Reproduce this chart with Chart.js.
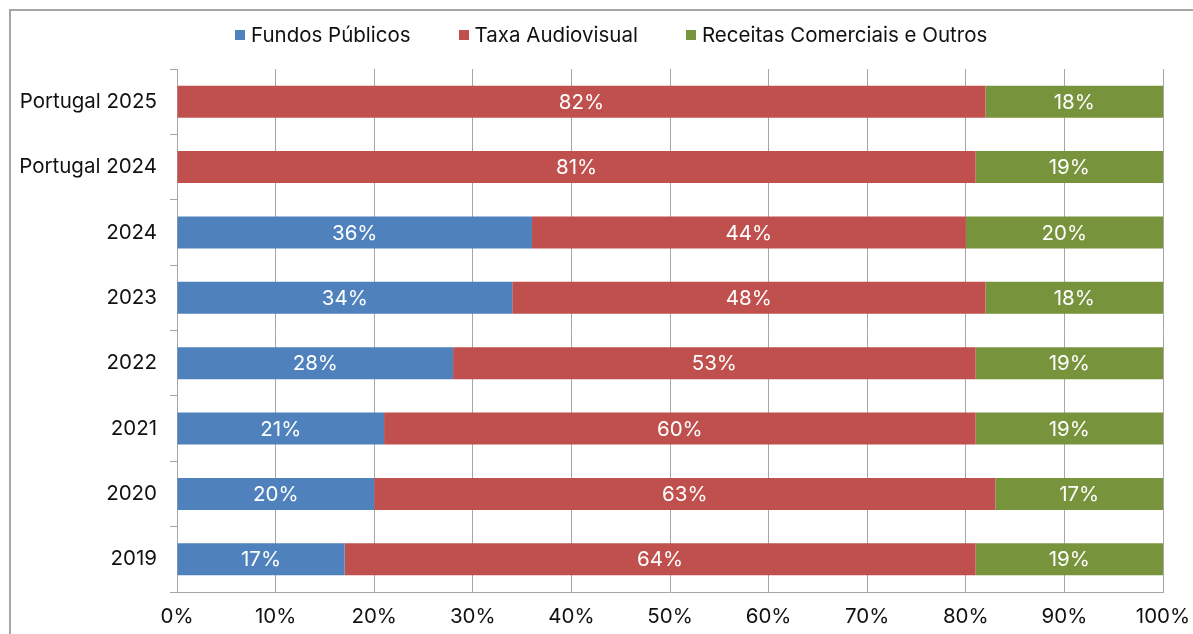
<!DOCTYPE html>
<html>
<head>
<meta charset="utf-8">
<script src="https://cdn.jsdelivr.net/npm/chart.js@4.4.1/dist/chart.umd.min.js"></script>
<style>
  html, body { margin: 0; padding: 0; background: #fff; overflow: hidden; }
  #wrap { position: relative; width: 1193px; height: 634px; }
  #frame {
    position: absolute; left: 9px; top: 9px; right: -20px; bottom: -20px;
    border-left: 2px solid #a6a6a6; border-top: 2px solid #a6a6a6;
  }
  #chart { position: absolute; left: 0; top: 0; }
  #legend {
    position: absolute; top: 24px; left: 235px;
    display: flex; gap: 48px;
    font: 20.5px Inter, "Noto Sans", sans-serif; line-height: 22px; color: #111;
  }
  #legend .item { display: flex; align-items: center; white-space: nowrap; }
  #legend .box { width: 10px; height: 10px; margin-right: 6px; }
</style>
</head>
<body>
<div id="wrap">
  <div id="frame"></div>
  <canvas id="chart" width="1193" height="634"></canvas>
  <div id="legend"></div>
</div>
<script>
const categories = ['Portugal 2025', 'Portugal 2024', '2024', '2023', '2022', '2021', '2020', '2019'];
const fundosPublicos = [0, 0, 36, 34, 28, 21, 20, 17];
const taxaAudiovisual = [82, 81, 44, 48, 53, 60, 63, 64];
const receitasComerciais = [18, 19, 20, 18, 19, 19, 17, 19];
const seriesNames = ['Fundos Públicos', 'Taxa Audiovisual', 'Receitas Comerciais e Outros'];
const seriesColors = ['#4f81bd', '#c0504d', '#77933c'];
const xTicks = [0, 10, 20, 30, 40, 50, 60, 70, 80, 90, 100];

const FONT = 'Inter, "Noto Sans", sans-serif';
const FONT_SIZE = 20.5;
const AXIS_GREY = '#a6a6a6';

// white % labels centred in each stacked segment
const segmentLabels = {
    id: 'segmentLabels',
    afterDatasetsDraw(chart) {
        const ctx = chart.ctx;
        ctx.save();
        ctx.font = FONT_SIZE + 'px ' + FONT;
        ctx.fillStyle = '#ffffff';
        ctx.textAlign = 'center';
        ctx.textBaseline = 'middle';
        chart.data.datasets.forEach((ds, i) => {
            chart.getDatasetMeta(i).data.forEach((bar, j) => {
                const v = ds.data[j];
                if (!v) return;
                const p = bar.getProps(['x', 'y', 'base'], true);
                ctx.fillText(v + '%', (p.x + p.base) / 2, p.y + 1);
            });
        });
        ctx.restore();
    }
};

const seriesData = [fundosPublicos, taxaAudiovisual, receitasComerciais];

const chart = new Chart(document.getElementById('chart'), {
    type: 'bar',
    data: {
        labels: categories,
        datasets: seriesNames.map((name, i) => ({
            label: name,
            data: seriesData[i],
            backgroundColor: seriesColors[i],
            borderWidth: 0,
            barPercentage: 0.49,
            categoryPercentage: 1
        }))
    },
    options: {
        indexAxis: 'y',
        responsive: false,
        animation: false,
        layout: { padding: { top: 69, right: 30, bottom: 0, left: 0 } },
        plugins: {
            legend: { display: false },
            tooltip: { enabled: false }
        },
        scales: {
            x: {
                stacked: true,
                min: 0,
                max: 100,
                afterFit: s => {
                    s.height = 42;
                    s.paddingLeft = 0;
                    s.paddingRight = 0;
                },
                afterBuildTicks: s => { s.ticks = xTicks.map(v => ({ value: v })); },
                ticks: {
                    padding: 13,
                    color: '#111',
                    font: { family: FONT, size: FONT_SIZE },
                    callback: v => v + '%'
                },
                grid: { color: AXIS_GREY, drawTicks: false, lineWidth: 1 },
                border: { color: AXIS_GREY, width: 1 }
            },
            y: {
                stacked: true,
                afterFit: s => { s.width = 177; },
                ticks: {
                    padding: 13,
                    color: '#111',
                    font: { family: FONT, size: FONT_SIZE }
                },
                grid: {
                    drawOnChartArea: false,
                    drawTicks: true,
                    tickLength: 7,
                    offset: true,
                    color: AXIS_GREY
                },
                border: { color: AXIS_GREY, width: 1 }
            }
        }
    },
    plugins: [segmentLabels]
});

// html legend built from the chart's datasets
const legendEl = document.getElementById('legend');
chart.data.datasets.forEach(ds => {
    const item = document.createElement('div');
    item.className = 'item';
    item.innerHTML = `<span class="box" style="background:${ds.backgroundColor}"></span>${ds.label}`;
    legendEl.appendChild(item);
});
</script>
</body>
</html>
